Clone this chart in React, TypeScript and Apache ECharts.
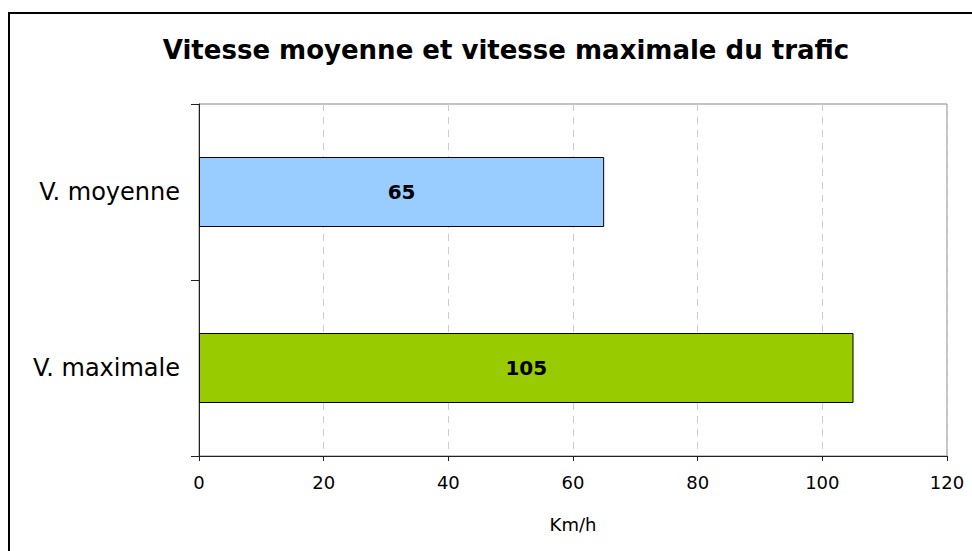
import React, { useEffect, useRef } from "react";
import * as echarts from "echarts";

const categories = ["V. moyenne", "V. maximale"];
const values = [65, 105];
const barColors = ["#99CCFF", "#99CC00"];
const xMin = 0;
const xMax = 120;
const xInterval = 20;
const titleText = "Vitesse moyenne et vitesse maximale du trafic";
const xAxisName = "Km/h";

const FONT = "'DejaVu Sans', 'Liberation Sans', Arial, sans-serif";

export default function App() {
  const ref = useRef<HTMLDivElement>(null);
  useEffect(() => {
    document.body.style.margin = "0";
    if (!ref.current) return;
    const chart = echarts.init(ref.current, undefined, { renderer: "svg" });
    chart.setOption({
      animation: false,
      backgroundColor: "#ffffff",
      title: {
        text: titleText,
        left: 501,
        top: 32,
        textAlign: "center",
        textStyle: { fontFamily: FONT, fontSize: 26, fontWeight: "bold", color: "#000" },
      },
      grid: {
        left: 199,
        top: 104,
        right: 25,
        bottom: 95,
        show: true,
        borderColor: "#888888",
        borderWidth: 1,
        backgroundColor: "transparent",
      },
      xAxis: {
        type: "value",
        min: xMin,
        max: xMax,
        interval: xInterval,
        name: xAxisName,
        nameLocation: "middle",
        nameGap: 59,
        nameTextStyle: { fontFamily: FONT, fontSize: 18, color: "#000" },
        axisLine: { show: true, lineStyle: { color: "#222", width: 1 } },
        axisTick: { show: true, length: 5, lineStyle: { color: "#222" } },
        axisLabel: { fontFamily: FONT, fontSize: 18, color: "#000", margin: 17 },
        splitLine: { show: true, lineStyle: { type: [7, 6], color: "#cccccc", width: 1 } },
      },
      yAxis: {
        type: "category",
        data: categories,
        inverse: true,
        axisLine: { show: true, lineStyle: { color: "#222", width: 1 } },
        axisTick: { show: true, length: 8, lineStyle: { color: "#222" } },
        axisLabel: { fontFamily: FONT, fontSize: 24, color: "#000", margin: 19 },
        splitLine: { show: false },
      },
      series: [
        {
          type: "bar",
          barWidth: 70,
          data: values.map((v, i) => ({
            value: v,
            itemStyle: { color: barColors[i], borderColor: "#000", borderWidth: 1 },
          })),
          label: {
            show: true,
            position: "inside",
            fontFamily: FONT,
            fontSize: 20,
            fontWeight: "bold",
            color: "#000",
          },
        },
      ],
      graphic: [
        {
          type: "rect",
          shape: { x: 9, y: 13, width: 1000, height: 600 },
          style: { fill: "none", stroke: "#000", lineWidth: 2 },
          silent: true,
        },
      ],
    });
    return () => chart.dispose();
  }, []);
  return <div ref={ref} style={{ width: 972, height: 551 }} />;
}
